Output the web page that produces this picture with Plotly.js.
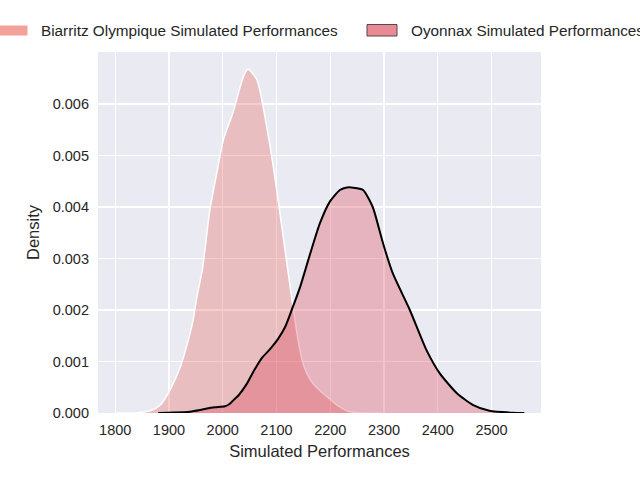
<!DOCTYPE html>
<html>
<head>
<meta charset="utf-8">
<script src="https://cdn.plot.ly/plotly-3.0.1.min.js"></script>
<style>html,body{margin:0;padding:0;background:#fff;}</style>
</head>
<body>
<div id="chart" style="width:640px;height:480px;"></div>
<script>
// Biarritz Olympique KDE
const biarritzX = [1804, 1841, 1865, 1884, 1902, 1921, 1936, 1945, 1952, 1962, 1976, 1989, 2001, 2019, 2038, 2047, 2064, 2082, 2097, 2110, 2121, 2138, 2149, 2162, 2177, 2190, 2212, 2236, 2264, 2292];
const biarritzY = [0, 0.000006, 0.000044, 0.000155, 0.000447, 0.000893, 0.00142, 0.00181, 0.00226, 0.00278, 0.00394, 0.00466, 0.00530, 0.00583, 0.00652, 0.00668, 0.00646, 0.00555, 0.00458, 0.00361, 0.00278, 0.00155, 0.00097, 0.00066, 0.00047, 0.00035, 0.00016, 0.000025, 0.000004, 0];
// Oyonnax KDE
const oyonnaxX = [1880, 1908, 1939, 1958, 1971, 1986, 2004, 2012, 2020, 2030, 2045, 2058, 2073, 2088, 2103, 2116, 2129, 2144, 2162, 2181, 2199, 2218, 2231, 2246, 2261, 2279, 2298, 2316, 2348, 2379, 2403, 2435, 2465, 2496, 2539, 2561];
const oyonnaxY = [0, 0.000008, 0.000025, 0.000058, 0.000087, 0.00011, 0.00013, 0.00017, 0.00025, 0.00035, 0.00057, 0.00082, 0.00107, 0.00124, 0.00144, 0.00167, 0.00202, 0.00245, 0.00307, 0.00369, 0.00410, 0.00433, 0.00438, 0.00437, 0.00433, 0.00400, 0.00330, 0.00272, 0.00200, 0.00122, 0.00078, 0.00039, 0.00016, 0.000045, 0.000006, 0];
const seriesNames = ["Biarritz Olympique Simulated Performances", "Oyonnax Simulated Performances"];
const xTicks = [1800, 1900, 2000, 2100, 2200, 2300, 2400, 2500];
const yTicks = [0, 0.001, 0.002, 0.003, 0.004, 0.005, 0.006];

const FONT = "Liberation Sans, Arial, Helvetica, sans-serif";
const TXT = "#262626";

const traces = [
  {
    x: biarritzX, y: biarritzY, type: "scatter", mode: "lines",
    name: seriesNames[0], fill: "tozeroy",
    fillcolor: "rgba(227,91,79,0.30)",
    line: {color: "#ffffff", width: 1.5, shape: "spline", smoothing: 0.6},
    showlegend: false, hoverinfo: "skip"
  },
  {
    x: oyonnaxX, y: oyonnaxY, type: "scatter", mode: "lines",
    name: seriesNames[1], fill: "tozeroy",
    fillcolor: "rgba(216,38,60,0.28)",
    line: {color: "#000000", width: 2, shape: "spline", smoothing: 0.6},
    showlegend: false, hoverinfo: "skip"
  }
];

// pixel helpers for the hand-built legend above the plot
const L = 98, R = 99, T = 52, B = 67, W = 640, H = 480;
const pw = W - L - R, ph = H - T - B;
const px = v => (v - L) / pw;
const py = v => (H - B - v) / ph;

const layout = {
  width: W, height: H,
  margin: {l: L, r: R, t: T, b: B, autoexpand: false},
  paper_bgcolor: "#ffffff",
  plot_bgcolor: "#eaeaf2",
  font: {family: FONT, color: TXT, size: 15},
  showlegend: false,
  xaxis: {
    range: [1768, 2592], tickvals: xTicks, ticktext: xTicks.map(String),
    showgrid: true, gridcolor: "#ffffff", gridwidth: 1.3,
    zeroline: false, showline: false, ticks: "",
    tickfont: {size: 14.5, color: TXT, family: FONT},
    ticklabelstandoff: 6,
    title: {text: "Simulated Performances", font: {size: 16.5, color: TXT, family: FONT}, standoff: 8}
  },
  yaxis: {
    range: [0, 0.00701], tickvals: yTicks, ticktext: yTicks.map(v => v.toFixed(3)),
    showgrid: true, gridcolor: "#ffffff", gridwidth: 1.3,
    zeroline: false, showline: false, ticks: "",
    tickfont: {size: 14.5, color: TXT, family: FONT},
    ticklabelstandoff: 8,
    title: {text: "Density", font: {size: 16.5, color: TXT, family: FONT}, standoff: 8}
  },
  shapes: [
    {type: "rect", xref: "paper", yref: "paper",
     x0: px(-1), x1: px(28), y0: py(36), y1: py(25),
     fillcolor: "#f4a19a", line: {color: "#ffffff", width: 1}},
    {type: "rect", xref: "paper", yref: "paper",
     x0: px(367), x1: px(397), y0: py(36), y1: py(24.5),
     fillcolor: "#e88b95", line: {color: "#5a4447", width: 1}}
  ],
  annotations: [
    {xref: "paper", yref: "paper", x: px(39), y: py(30.5), xanchor: "left", yanchor: "middle",
     text: seriesNames[0], showarrow: false, font: {size: 15.3, color: TXT, family: FONT}},
    {xref: "paper", yref: "paper", x: px(409), y: py(30.5), xanchor: "left", yanchor: "middle",
     text: seriesNames[1], showarrow: false, font: {size: 15.3, color: TXT, family: FONT}}
  ]
};

Plotly.newPlot("chart", traces, layout, {displayModeBar: false, staticPlot: true});
</script>
</body>
</html>
